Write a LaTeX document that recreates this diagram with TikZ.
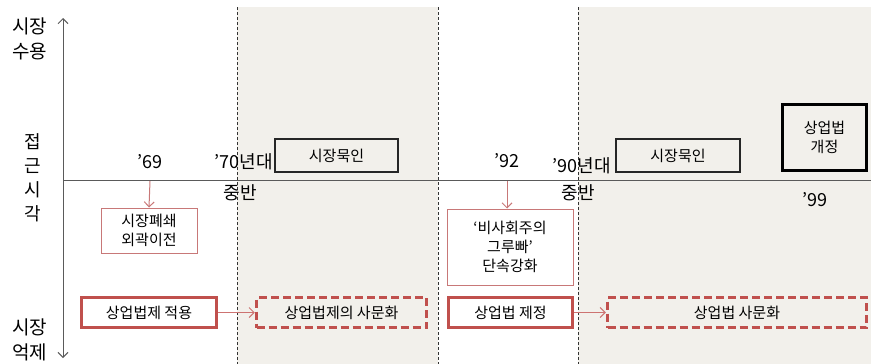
\documentclass[tikz,border=0pt]{standalone}
\usepackage{fontspec}
\setmainfont{Noto Sans CJK KR}
\usetikzlibrary{arrows.meta}
\definecolor{bgshade}{RGB}{242,240,235}
\definecolor{redA}{RGB}{192,80,77}
\definecolor{redL}{RGB}{200,120,120}
\definecolor{axisc}{RGB}{90,90,90}
\tikzset{
  axislbl/.style={font=\fontsize{19}{25}\selectfont, align=center, inner sep=0pt},
  yearlbl/.style={font=\fontsize{18}{20}\selectfont, inner sep=0pt},
  boxfont/.style={font=\fontsize{15}{19}\selectfont, align=center, inner sep=0pt},
  thinred/.style={boxfont, draw=redL, line width=1pt, fill=white},
  thinblack/.style={boxfont, draw=black!85, line width=1.2pt},
  thickblack/.style={boxfont, draw=black, line width=3.5pt},
  thickred/.style={boxfont, draw=redA, line width=3.5pt, fill=white},
  dashred/.style={boxfont, draw=redA, line width=3.5pt, dash pattern=on 8pt off 4pt},
  divider/.style={draw=black!80, line width=0.7pt, dash pattern=on 3pt off 2pt},
  redarrow/.style={draw=redL, line width=1pt, -{Straight Barb[length=5pt,width=10pt]}},
  axisarrow/.style={draw=axisc, line width=1pt, {Straight Barb[length=5pt,width=10pt]}-{Straight Barb[length=5pt,width=10pt]}}
}
\begin{document}
\begin{tikzpicture}[x=1pt,y=-1pt]
\useasboundingbox (0,0) rectangle (871,364);
% shaded regions
\fill[bgshade] (237,7) rectangle (438,364);
\fill[bgshade] (578,7) rectangle (871,364);
\draw[divider] (237,7) -- (237,364);
\draw[divider] (438,7) -- (438,364);
\draw[divider] (578,7) -- (578,364);
% axes
\coordinate (ytop) at (63,18);
\coordinate (ybot) at (63,358);
\coordinate (xl) at (63,180);
\coordinate (xr) at (871,180);
\draw[axisarrow] (ytop) -- (ybot);
\draw[draw=axisc, line width=1pt] (xl) -- (xr);
% axis labels
\node[axislbl] (acc) at (30,39) {시장\\수용};
\node[axislbl, font=\fontsize{18}{24}\selectfont] (view) at (33,178) {접\\근\\시\\각};
\node[axislbl] (sup) at (30,340) {시장\\억제};
% year labels
\node[yearlbl] (y69) at (150,162) {’69};
\node[yearlbl, anchor=east] (y70) at (273,162) {’70년대};
\node[yearlbl] (y70b) at (240,193) {중반};
\node[yearlbl] (y92) at (507,161) {’92};
\node[yearlbl, anchor=east] (y90) at (611,166) {’90년대};
\node[yearlbl] (y90b) at (578,193) {중반};
\node[yearlbl] (y99) at (815,200) {’99};
% boxes on timeline
\node[thinred, minimum width=96pt, minimum height=45pt] (close) at (149,230.5) {시장폐쇄\\외곽이전};
\node[thinred, minimum width=126pt, minimum height=76pt] (group) at (510,247) {‘비사회주의\\그루빠’\\단속강화};
\node[thinblack, minimum width=123pt, minimum height=33pt] (tol1) at (336.5,155.5) {시장묵인};
\node[thinblack, minimum width=124pt, minimum height=33pt] (tol2) at (678,155.5) {시장묵인};
\node[thickblack, minimum width=84pt, minimum height=66pt] (rev) at (824.5,137.5) {상업법\\개정};
% arrows from axis
\coordinate (t69) at (150,181);
\coordinate (t92) at (507,181);
\draw[redarrow] (t69) -- (close.north);
\draw[redarrow] (t92) -- (group.north -| t92);
% bottom row
\node[thickred, minimum width=135pt, minimum height=30pt] (apply) at (149,312.5) {상업법제 적용};
\node[dashred, minimum width=170pt, minimum height=30pt] (dead1) at (341.5,312.5) {상업법제의 사문화};
\node[thickred, minimum width=124pt, minimum height=30pt] (enact) at (510.5,312.5) {상업법 제정};
\node[dashred, minimum width=259pt, minimum height=30pt] (dead2) at (737,312.5) {상업법 사문화};
\draw[redarrow, draw=redA!80] (apply.east) -- (dead1.west);
\draw[redarrow, draw=redA!80] (enact.east) -- (dead2.west);
\end{tikzpicture}
\end{document}
